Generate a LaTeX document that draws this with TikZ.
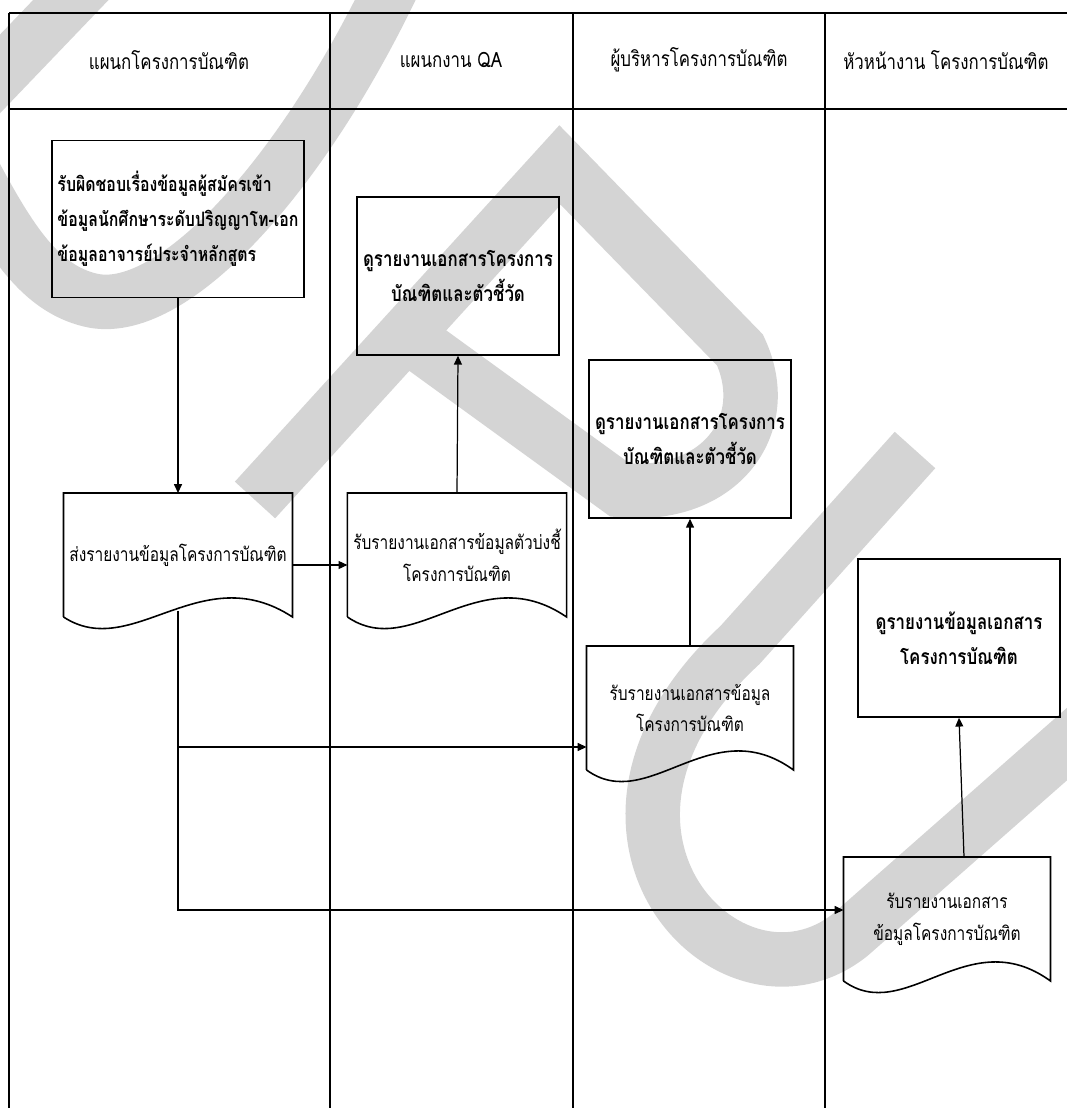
\documentclass[tikz,border=0pt]{standalone}
\usepackage{fontspec}
\newfontfamily\thaifont[Script=Thai,FakeStretch=0.8]{Loma}
\usetikzlibrary{calc,arrows.meta}
\definecolor{markgray}{RGB}{212,212,212}

% document symbol: flat top, wavy bottom edge
\newcommand{\docshape}[1]{%
  \draw[docline] (#1.south west) -- (#1.north west) -- (#1.north east) -- (#1.south east)
    .. controls ($(#1.south west)!0.6!(#1.south east)+(0,-60)$) and ($(#1.south west)!0.3!(#1.south east)+(0,45)$) .. (#1.south west);}

\begin{document}
\begin{tikzpicture}[x=0.02cm,y=-0.02cm,
    font=\thaifont\fontsize{12}{20}\selectfont,
    wmband/.style={draw=markgray, line width=31pt},
    lane/.style={line width=1pt},
    procbox/.style={draw, line width=0.9pt, minimum width=4.04cm, minimum height=3.16cm, align=center,
      font=\thaifont\bfseries\fontsize{12}{20}\selectfont},
    docbox/.style={minimum width=4.14cm, minimum height=2.48cm, align=center, outer sep=0pt,
      font=\thaifont\fontsize{11}{18}\selectfont},
    docline/.style={line width=0.9pt},
    flow/.style={line width=0.7pt, -{Triangle[length=5pt,width=4.5pt]}}
  ]
  \useasboundingbox (0,0) rectangle (1067,1108);

  % background mark
  \draw[wmband] (90,-20) -- (-25,100);
  \draw[wmband] (395,-20) .. controls (300,180) and (170,320) .. (90,300) .. controls (40,288) and (10,240) .. (-25,175);
  \draw[wmband] (255,500) -- (560,165) -- (740,350) .. controls (775,425) and (720,500) .. (620,490) -- (420,345);
  \draw[wmband] (915,450) -- (740,645) .. controls (540,830) and (730,1030) .. (850,935) -- (1100,715);

  % swimlanes
  \draw[lane] (9,13) -- (1067,13);
  \draw[lane] (9,109) -- (1067,109);
  \foreach \x in {9,330,573,825}
    \draw[lane] (\x,13) -- (\x,1108);

  \node (lane1) at (169,60) {แผนกโครงการบัณฑิต};
  \node (lane2) at (451,60) {แผนกงาน QA};
  \node (lane3) at (699,60) {ผู้บริหารโครงการบัณฑิต};
  \node (lane4) at (946,60) {หัวหน้างาน โครงการบัณฑิต};

  % process boxes
  \node[procbox, minimum width=5.04cm, minimum height=3.14cm, align=left, inner xsep=1pt,
    font=\thaifont\bfseries\fontsize{11.3}{20}\selectfont] (resp) at (178,219)
    {รับผิดชอบเรื่องข้อมูลผู้สมัครเข้า\\ข้อมูลนักศึกษาระดับปริญญาโท-เอก\\ข้อมูลอาจารย์ประจำหลักสูตร};
  \node[procbox, minimum width=4.02cm] (qaview) at (458,276) {ดูรายงานเอกสารโครงการ\\บัณฑิตและตัวชี้วัด};
  \node[procbox] (mgrview) at (690,439) {ดูรายงานเอกสารโครงการ\\บัณฑิตและตัวชี้วัด};
  \node[procbox] (headview) at (959,638) {ดูรายงานข้อมูลเอกสาร\\โครงการบัณฑิต};

  % documents
  \node[docbox] (send) at (178,555) {ส่งรายงานข้อมูลโครงการบัณฑิต};
  \node[docbox] (qarecv) at (457,555) {รับรายงานเอกสารข้อมูลตัวบ่งชี้\\โครงการบัณฑิต};
  \node[docbox] (mgrrecv) at (690,708) {รับรายงานเอกสารข้อมูล\\โครงการบัณฑิต};
  \node[docbox] (headrecv) at (947,919) {รับรายงานเอกสาร\\ข้อมูลโครงการบัณฑิต};
  \foreach \d in {send,qarecv,mgrrecv,headrecv}
    \docshape{\d};

  % flows
  \draw[flow] (resp.south) -- (send.north);
  \draw[flow] ($(send.east)+(0,10)$) -- ($(qarecv.west)+(0,10)$);
  \draw[flow] (qarecv.north) -- (qaview.south);
  \draw[flow] (mgrrecv.north) -- (mgrview.south);
  \draw[flow] ($(headrecv.north)+(17,0)$) -- (headview.south);
  \coordinate (fork) at ($(send.south)+(0,-6)$);
  \draw[flow] (fork) |- ($(mgrrecv.west)+(0,39)$);
  \draw[flow] (fork) |- ($(headrecv.west)+(0,-9)$);
\end{tikzpicture}
\end{document}
